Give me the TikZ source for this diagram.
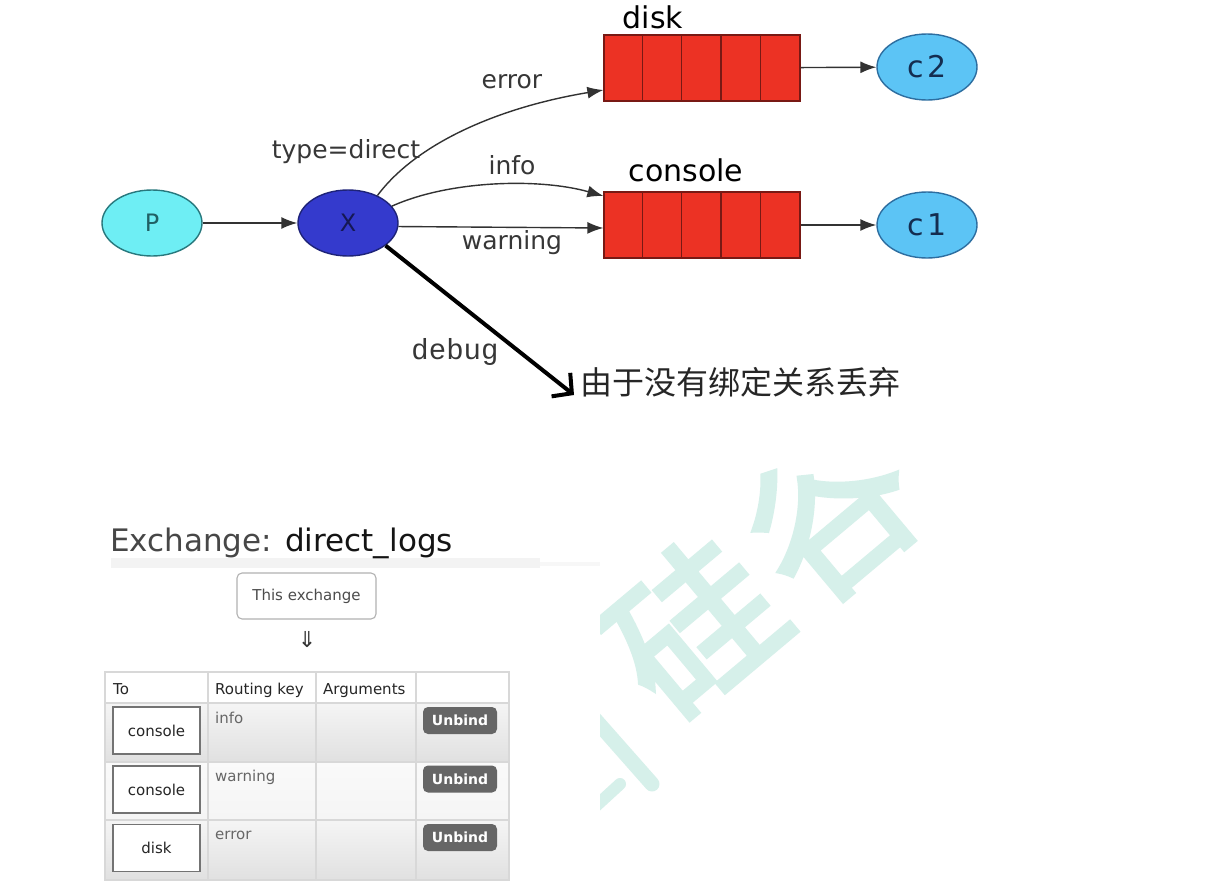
\documentclass[tikz,border=0pt]{standalone}
\usepackage{fontspec}
\setmainfont{DejaVu Sans}
\newfontfamily\cjk{Noto Sans CJK SC}
\newfontfamily\wmfont[FakeBold=2.8]{Noto Sans CJK SC}
\newfontfamily\monof{Liberation Mono}
\usetikzlibrary{shapes.geometric,arrows.meta}
\definecolor{pfill}{RGB}{110,238,244}
\definecolor{pdraw}{RGB}{40,120,125}
\definecolor{xfill}{RGB}{52,58,205}
\definecolor{xdraw}{RGB}{30,35,120}
\definecolor{qfill}{RGB}{236,50,36}
\definecolor{qdraw}{RGB}{120,25,20}
\definecolor{cfill}{RGB}{92,196,245}
\definecolor{cdraw}{RGB}{45,110,160}
\definecolor{ctext}{RGB}{20,45,80}
\definecolor{arrc}{RGB}{50,50,50}
\definecolor{labc}{RGB}{55,55,55}
\definecolor{wmc}{RGB}{214,240,234}
\definecolor{gridc}{RGB}{216,216,216}
\definecolor{btnc}{RGB}{102,102,102}
\definecolor{rkc}{RGB}{102,102,102}
\definecolor{barc}{RGB}{243,243,243}
\tikzset{
  ellnode/.style={ellipse, minimum width=100pt, minimum height=66pt, inner sep=0pt, line width=1.4pt},
  queue/.style={rectangle, fill=qfill, draw=qdraw, line width=1.3pt, minimum width=196pt, minimum height=66pt, inner sep=0pt},
  qline/.style={draw=qdraw, line width=1.2pt},
  arr/.style={draw=arrc, line width=1.4pt, -{Latex[length=16pt,width=12pt]}},
  lab/.style={text=labc, font=\fontsize{25}{30}\selectfont, inner sep=0pt},
  qlab/.style={text=black, font=\fontsize{30}{34}\selectfont, inner sep=0pt},
  tbl/.style={font=\fontsize{15}{18}\selectfont, inner sep=0pt, anchor=base west},
  tobox/.style={draw=black!55, line width=1.3pt, fill=white, minimum width=87pt, minimum height=47pt, inner sep=0pt, font=\fontsize{15}{18}\selectfont, text=black!85},
  ubtn/.style={fill=btnc, rounded corners=5pt, minimum width=74pt, minimum height=27pt, inner sep=0pt, text=white, font=\fontsize{14}{17}\selectfont\bfseries},
  wmtext/.style={rotate=40, text=wmc, inner sep=0pt, font=\wmfont\fontsize{165}{170}\selectfont},
  wmstroke/.style={draw=wmc, line cap=round},
}
\begin{document}
\begin{tikzpicture}[x=1pt,y=-1pt]
\useasboundingbox (0,0) rectangle (1227,894);
\fill[white] (0,0) rectangle (1227,894);
% watermark
\begin{scope}
\clip (600,457) rectangle (1227,894);
\node[wmtext] (wm) at (762,570) {硅\kern12pt谷};
\draw[wmstroke, line width=15pt] (592,716) -- (652,784);
\draw[wmstroke, line width=12pt] (596,806) -- (620,784);
\end{scope}
% top diagram
\node[ellnode, fill=pfill, draw=pdraw, text=pdraw!80!black, font=\fontsize{24}{28}\selectfont] (P) at (152,223) {P};
\node[ellnode, fill=xfill, draw=xdraw, text=xdraw!70!black, font=\fontsize{24}{28}\selectfont] (X) at (348,223) {X};
\node[queue] (diskq) at (702,68) {};
\node[queue] (consq) at (702,225) {};
\foreach \q in {diskq,consq}{
  \foreach \i in {1,2,3,4}{
    \draw[qline] ([xshift=\i*39.2pt]\q.north west) -- ([xshift=\i*39.2pt]\q.south west);
  }
}
\node[qlab] (disklab) at (653,17) {disk};
\node[qlab] (conslab) at (686,170) {console};
\node[ellnode, fill=cfill, draw=cdraw, text=ctext, font=\fontsize{30}{34}\selectfont] (C2) at (927,67) {c\kern3pt2};
\node[ellnode, fill=cfill, draw=cdraw, text=ctext, font=\fontsize{30}{34}\selectfont] (C1) at (927,225) {c\kern3pt1};
\draw[arr] (P) -- (X);
\draw[arr] (X.43) .. controls (415,145) and (495,108) .. ([yshift=-22pt]diskq.west);
\draw[arr] (X.21) .. controls (450,180) and (540,178) .. ([yshift=29pt]consq.west);
\draw[arr] (X.-4) -- ([yshift=-3pt]consq.west);
\draw[arr] (diskq) -- (C2);
\draw[arr] (consq) -- (C1);
\node[lab] (lerr) at (512,82) {error};
\node[lab] (ltype) at (346,152) {type=direct};
\node[lab] (linfo) at (512,165) {info};
\node[lab] (lwarn) at (512,243) {warning};
\node[text=labc, font=\monof\fontsize{29}{32}\selectfont, inner sep=0pt] (ldebug) at (455,352) {debug};
\node[anchor=west, inner sep=0pt, text=black!85, font=\cjk\fontsize{32}{36}\selectfont] (drop) at (580,382) {由于没有绑定关系丢弃};
\draw[line width=4pt, black, -{Straight Barb[length=14pt,width=30pt]}] (X.-31) -- ([xshift=-6pt,yshift=-13pt]drop.west);
% bottom: exchange page
\fill[barc] (111,558) rectangle (540,568);
\fill[barc!70] (540,562) rectangle (600,566);
\node[anchor=base west, inner sep=0pt, font=\fontsize{31}{36}\selectfont] (exh) at (110,551) {\textcolor{black!72}{Exchange:} \textcolor{black!92}{direct\_logs}};
\node[draw=black!30, line width=1.1pt, rounded corners=5pt, fill=white, minimum width=139pt, minimum height=46pt, inner sep=0pt, text=black!70, font=\fontsize{15}{18}\selectfont] (thisx) at (306.5,596) {This exchange};
\node[inner sep=0pt, text=black!80, font=\fontsize{22}{26}\selectfont] (darr) at (307,640) {⇓};
% table backgrounds
\fill[white] (105,672) rectangle (509,703);
\shade[top color=black!4, bottom color=black!12] (105,703) rectangle (509,762);
\shade[top color=black!2, bottom color=black!4] (105,762) rectangle (509,820);
\shade[top color=black!4, bottom color=black!12] (105,820) rectangle (509,880);
\draw[gridc, line width=1.2pt] (105,672) rectangle (509,880);
\foreach \yy in {703,762,820}{\draw[gridc, line width=1.2pt] (105,\yy) -- (509,\yy);}
\foreach \xx in {208,316,416}{\draw[gridc, line width=1.2pt] (\xx,672) -- (\xx,880);}
\node[tbl, text=black!85] (hto) at (113,694) {To};
\node[tbl, text=black!85] (hrk) at (215,694) {Routing key};
\node[tbl, text=black!85] (harg) at (323,694) {Arguments};
\node[tobox] (t1) at (156.5,730.5) {console};
\node[tobox] (t2) at (156.5,789.5) {console};
\node[tobox] (t3) at (156.5,848) {disk};
\node[tbl, text=rkc] (r1) at (215,723) {info};
\node[tbl, text=rkc] (r2) at (215,781) {warning};
\node[tbl, text=rkc] (r3) at (215,839) {error};
\node[ubtn] (u1) at (460,720.5) {Unbind};
\node[ubtn] (u2) at (460,779) {Unbind};
\node[ubtn] (u3) at (460,837.5) {Unbind};
\end{tikzpicture}
\end{document}
